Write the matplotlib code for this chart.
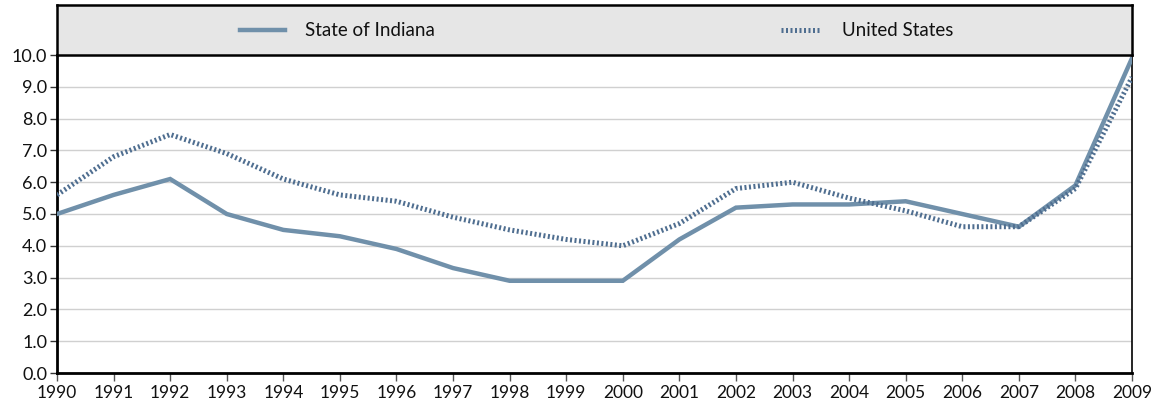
import matplotlib
matplotlib.use("Agg")
import matplotlib.pyplot as plt
from matplotlib.lines import Line2D

years = list(range(1990, 2010))
indiana = [5.0, 5.6, 6.1, 5.0, 4.5, 4.3, 3.9, 3.3, 2.9, 2.9, 2.9, 4.2, 5.2, 5.3, 5.3, 5.4, 5.0, 4.6, 5.9, 9.9]
us = [5.6, 6.8, 7.5, 6.9, 6.1, 5.6, 5.4, 4.9, 4.5, 4.2, 4.0, 4.7, 5.8, 6.0, 5.5, 5.1, 4.6, 4.6, 5.8, 9.3]
series_names = ["State of Indiana", "United States"]
yticks = [0.0, 1.0, 2.0, 3.0, 4.0, 5.0, 6.0, 7.0, 8.0, 9.0, 10.0]

plt.rcParams['font.family'] = ['Lato', 'DejaVu Sans']

W, H = 1153, 409
fig = plt.figure(figsize=(W / 100, H / 100), dpi=100)

L, R = 57 / W, 1132 / W
B, T = (H - 373) / H, (H - 55) / H
ax = fig.add_axes([L, B, R - L, T - B])

c_ind = '#7090aa'
c_us = '#4f6e90'
us_dash = (0.4, 0.5)

ax.plot(years, indiana, color=c_ind, lw=3.2, solid_joinstyle='miter', zorder=3)
ax.plot(years, us, color=c_us, lw=3.6, dashes=us_dash, dash_capstyle='butt', zorder=3)

ax.set_xlim(1990, 2009)
ax.set_ylim(0, 10)
ax.set_yticks(yticks)
ax.set_yticklabels([f"{v:.1f}" for v in yticks], fontsize=13)
ax.set_xticks(years)
ax.set_xticklabels([str(y) for y in years], fontsize=12.5)
ax.grid(axis='y', color='#d0d0d0', lw=1.0)
ax.set_axisbelow(True)
for s in ['left', 'bottom']:
    ax.spines[s].set_linewidth(2.0)
    ax.spines[s].set_color('black')
ax.spines['right'].set_linewidth(1.2)
ax.spines['top'].set_visible(False)
ax.tick_params(axis='y', length=5, width=1, color='#333333', pad=2, labelcolor='#111111')
ax.tick_params(axis='x', length=6, width=1, color='#555555', pad=3, labelcolor='#111111')

# legend header box
T2 = (H - 5) / H
lax = fig.add_axes([L, T, R - L, T2 - T])
lax.set_facecolor('#e6e6e6')
lax.set_xlim(0, 1)
lax.set_ylim(0, 1)
lax.set_xticks([])
lax.set_yticks([])
for s in lax.spines.values():
    s.set_linewidth(1.8)
    s.set_color('black')
lax.add_line(Line2D([(240 - 57) / (1132 - 57), (285 - 57) / (1132 - 57)], [0.5, 0.5],
                    color=c_ind, lw=3.2))
lax.text((305 - 57) / (1132 - 57), 0.5, series_names[0], fontsize=13.5, va='center', ha='left', color='#111111')
lax.add_line(Line2D([(781 - 57) / (1132 - 57), (819 - 57) / (1132 - 57)], [0.5, 0.5],
                    color=c_us, lw=3.6, dashes=us_dash, dash_capstyle='butt'))
lax.text((842 - 57) / (1132 - 57), 0.5, series_names[1], fontsize=13.5, va='center', ha='left', color='#111111')

fig.savefig('out.png', dpi=100)
